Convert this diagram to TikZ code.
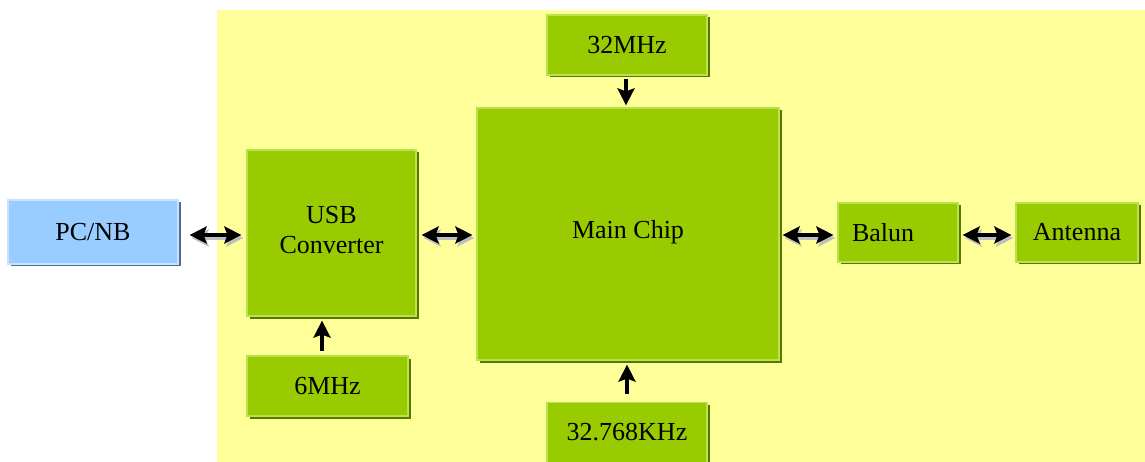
\documentclass[tikz,border=0pt]{standalone}
\usepackage{fontspec}
\setmainfont{Liberation Serif}
\usetikzlibrary{shadows,arrows.meta}
\definecolor{bgy}{RGB}{255,255,153}
\definecolor{gfill}{RGB}{153,204,0}
\definecolor{gshadow}{RGB}{90,120,0}
\definecolor{gedge}{RGB}{185,225,80}
\definecolor{bfill}{RGB}{153,204,255}
\definecolor{bshadow}{RGB}{80,110,150}
\definecolor{bedge}{RGB}{200,225,255}
\tikzset{
  gbox/.style={rectangle, fill=gfill, draw=gedge, line width=1.2pt, inner sep=0pt,
    drop shadow={shadow xshift=2.5pt, shadow yshift=-2.5pt, fill=gshadow, opacity=1},
    font=\fontsize{26}{30}\selectfont, align=center},
  bbox/.style={gbox, fill=bfill, draw=bedge,
    drop shadow={shadow xshift=2.5pt, shadow yshift=-2.5pt, fill=bshadow, opacity=1}},
  tipk/.tip={Stealth[length=17pt,width=17pt,inset=3pt]},
  darr/.style={line width=3.5pt, tipk-tipk},
  sarr/.style={line width=3.5pt, -tipk},
  shad/.style={draw=black!25, transform canvas={xshift=2pt,yshift=-3pt}}
}
\begin{document}
\begin{tikzpicture}[x=1pt,y=-1pt]
\useasboundingbox (0,0) rectangle (1145,462);
\fill[bgy] (217,10) rectangle (1145,462);
\node[bbox, minimum width=170pt, minimum height=64pt] (pc) at (93,232) {PC/NB};
\node[gbox, minimum width=169pt, minimum height=166pt] (usb) at (331.5,233) {\raisebox{9pt}{\begin{tabular}{@{}c@{}}USB\\[0pt]Converter\end{tabular}}};
\node[gbox, minimum width=161pt, minimum height=60pt] (six) at (327.5,386) {6MHz};
\node[gbox, minimum width=302pt, minimum height=252pt] (main) at (628,234) {\raisebox{9pt}{Main Chip}};
\node[gbox, minimum width=160pt, minimum height=60pt] (m32) at (627,45) {32MHz};
\node[gbox, minimum width=160pt, minimum height=60pt] (k32) at (627,432.5) {32.768KHz};
\node[gbox, minimum width=120pt, minimum height=59pt, text width=92pt, align=left] (balun) at (898,232.5) {Balun};
\node[gbox, minimum width=122pt, minimum height=59pt] (ant) at (1077,232.5) {Antenna};
% arrow shadows
\draw[darr, shad] ([xshift=11pt]pc.east |- 0,235) -- ([xshift=-5pt]usb.west |- 0,235);
\draw[darr, shad] ([xshift=5pt]usb.east |- 0,235) -- ([xshift=-4pt]main.west |- 0,235);
\draw[darr, shad] ([xshift=3pt]main.east |- 0,235) -- ([xshift=-4pt]balun.west |- 0,235);
\draw[darr, shad] ([xshift=4pt]balun.east |- 0,235) -- ([xshift=-4pt]ant.west |- 0,235);
% arrows
\draw[darr] ([xshift=11pt]pc.east |- 0,235) -- ([xshift=-5pt]usb.west |- 0,235);
\draw[darr] ([xshift=5pt]usb.east |- 0,235) -- ([xshift=-4pt]main.west |- 0,235);
\draw[darr] ([xshift=3pt]main.east |- 0,235) -- ([xshift=-4pt]balun.west |- 0,235);
\draw[darr] ([xshift=4pt]balun.east |- 0,235) -- ([xshift=-4pt]ant.west |- 0,235);
\draw[sarr] ([yshift=-3pt]m32.south -| 626,0) -- ([yshift=2pt]main.north -| 626,0);
\draw[sarr] ([yshift=4pt]six.north -| 322,0) -- ([yshift=-4pt]usb.south -| 322,0);
\draw[sarr] ([yshift=8pt]k32.north -| 627,0) -- ([yshift=-4pt]main.south -| 627,0);
\end{tikzpicture}
\end{document}
